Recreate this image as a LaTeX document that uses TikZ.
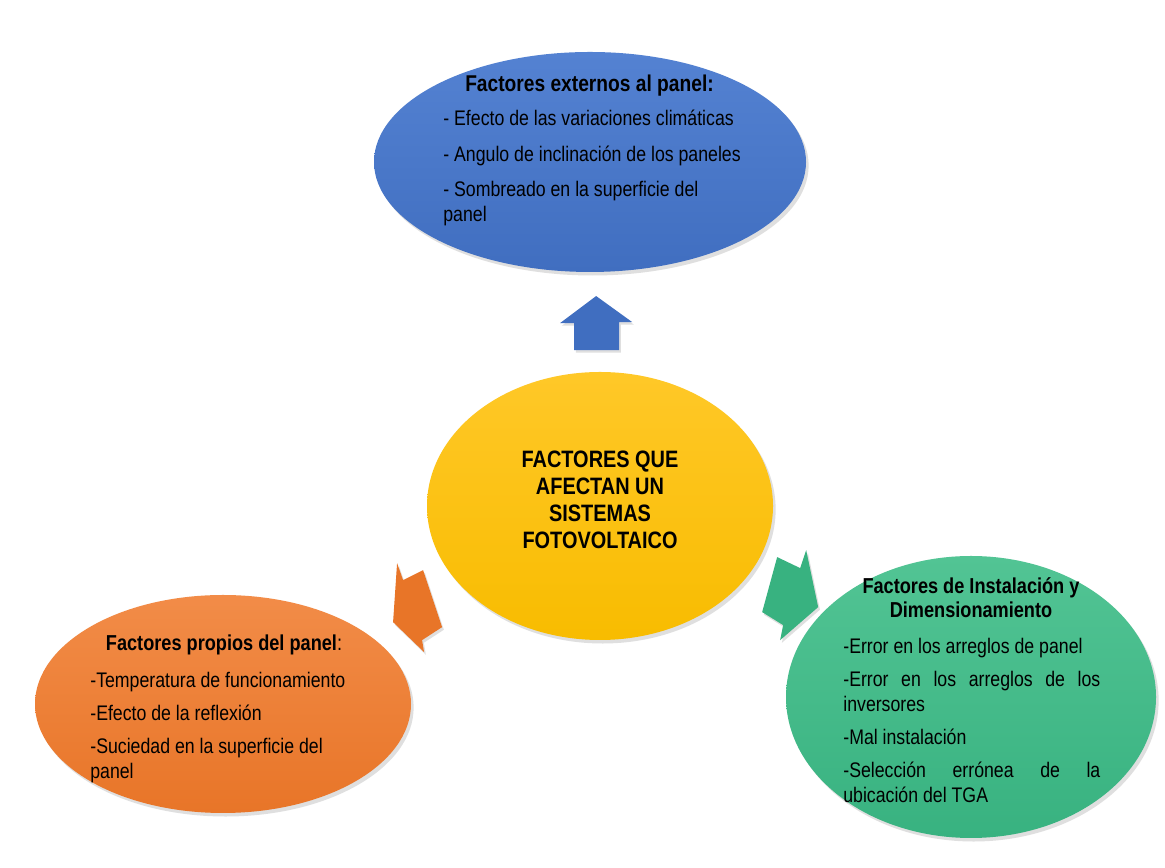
\documentclass[tikz,border=0pt]{standalone}
\usepackage{fontspec}
\setmainfont{Liberation Sans}[FakeStretch=0.84]
\usetikzlibrary{shapes.geometric,shadows}
\definecolor{extblue}{RGB}{64,110,192}
\definecolor{extbluetop}{RGB}{84,130,210}
\definecolor{coreyel}{RGB}{248,188,0}
\definecolor{coreyeltop}{RGB}{255,200,40}
\definecolor{ownorange}{RGB}{232,117,40}
\definecolor{ownorangetop}{RGB}{242,140,72}
\definecolor{instgreen}{RGB}{56,178,128}
\definecolor{instgreentop}{RGB}{82,196,148}

\tikzset{
  factor/.style={ellipse,inner sep=0pt,
    drop shadow={shadow xshift=1.5pt,shadow yshift=-2pt,opacity=0.25}},
  factortitle/.style={inner sep=0pt,align=center,
    font=\bfseries\fontsize{12.3}{13.5}\selectfont},
  factorbody/.style={inner sep=0pt,anchor=north west,
    font=\fontsize{12}{14.2}\selectfont},
  blockarrow/.style={drop shadow={shadow xshift=1pt,shadow yshift=-1.5pt,opacity=0.25}}
}

\begin{document}
\begin{tikzpicture}
  \useasboundingbox[fill=white] (0,0) rectangle (23.3,17.36);
  % ---------------- centre: the system ------------------------------
  \node[factor,minimum width=6.92cm,minimum height=5.36cm,
        top color=coreyeltop,bottom color=coreyel] (core) at (12.0,7.24) {};
  \node[inner sep=0pt,align=center,font=\bfseries\fontsize{13.5}{15.3}\selectfont]
      (core-txt) at (12.0,7.36)
      {FACTORES QUE\\AFECTAN UN\\SISTEMAS\\FOTOVOLTAICO};
  % ---------------- top: external factors ---------------------------
  \node[factor,minimum width=8.64cm,minimum height=4.4cm,
        top color=extbluetop,bottom color=extblue] (ext) at (11.8,14.12) {};
  \node[factortitle,font=\bfseries\fontsize{13}{14}\selectfont] (ext-title)
      at (11.79,15.64) {Factores externos al panel:};
  \node[factorbody,text width=6.2cm,align=flush left] (ext-body) at (8.86,15.16)
      {\parskip=6pt
       - Efecto de las variaciones climáticas\par
       - Angulo de inclinación de los paneles\par
       - Sombreado en la superficie del\newline panel};
  % ---------------- left: panel factors ------------------------------
  \node[factor,minimum width=7.52cm,minimum height=4.36cm,
        top color=ownorangetop,bottom color=ownorange] (own) at (4.46,3.28) {};
  \node[factortitle] (own-title) at (4.48,4.46)
      {Factores propios del panel\textmd{:}};
  \node[factorbody,text width=5.4cm,align=flush left] (own-body) at (1.8,3.92)
      {\parskip=4.5pt
       -Temperatura de funcionamiento\par
       -Efecto de la reflexión\par
       -Suciedad en la superficie del\newline panel};
  % ---------------- right: installation factors ----------------------
  \node[factor,minimum width=7.4cm,minimum height=5.64cm,
        top color=instgreentop,bottom color=instgreen] (inst) at (19.42,3.42) {};
  \node[factortitle] (inst-title) at (19.42,5.4)
      {Factores de Instalación y\\Dimensionamiento};
  \node[factorbody,text width=5.14cm,align=justify] (inst-body) at (16.86,4.6)
      {\parskip=4.5pt
       -Error en los arreglos de panel\par
       -Error en los arreglos de los\linebreak inversores\par
       -Mal instalación\par
       -Selección errónea de la\linebreak ubicación del TGA};
  % ---------------- block arrows (traced in pixel units) -------------
  \begin{scope}[yshift=17.36cm,x=0.02cm,y=-0.02cm]
    \fill[blockarrow,extblue] (574,350) -- (574,323) -- (560,323) -- (596,296)
        -- (632,322) -- (619,322) -- (619,350) -- cycle;
    \fill[blockarrow,ownorange] (397,563) -- (403,580) -- (423,570) -- (442,627)
        -- (422,640) -- (424,652) -- (393,622) -- cycle;
    \fill[blockarrow,instgreen] (777,557) -- (800,568) -- (806,550) -- (818,607)
        -- (780,640) -- (783,625) -- (762,612) -- cycle;
  \end{scope}
\end{tikzpicture}
\end{document}
